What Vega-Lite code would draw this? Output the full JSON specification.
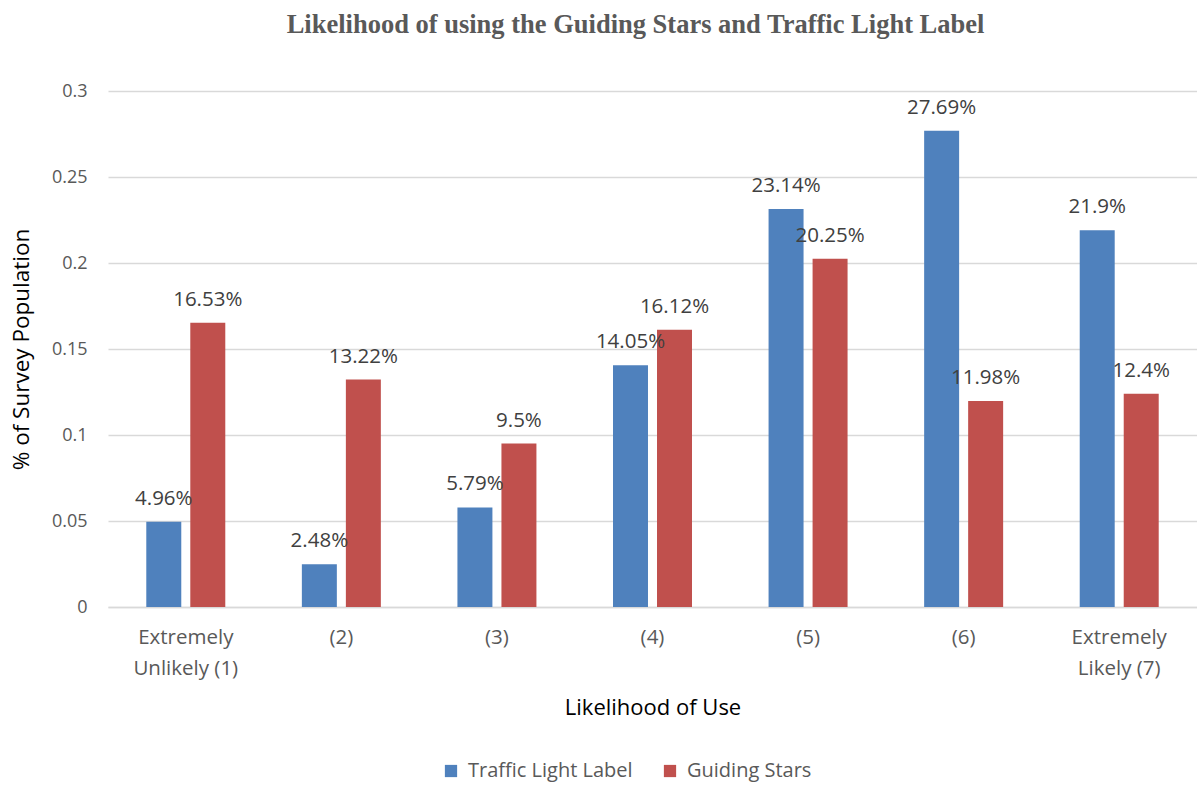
{
  "$schema": "https://vega.github.io/schema/vega-lite/v6.json",
  "autosize": {"type": "none"},
  "width": 1089,
  "height": 516,
  "padding": {"left": 108, "top": 91, "right": 0, "bottom": 178},
  "background": "white",
  "title": {
    "text": "Likelihood of using the Guiding Stars and Traffic Light Label",
    "font": "Liberation Serif",
    "fontSize": 26.5,
    "fontWeight": "bold",
    "color": "#595959",
    "anchor": "middle",
    "dx": -17,
    "offset": 44
  },
  "config": {
    "view": {"stroke": null},
    "font": "Open Sans"
  },
  "data": {
    "values": [
      {"likelihood": "Extremely Unlikely (1)", "series": "Traffic Light Label", "value": 0.0496},
      {"likelihood": "Extremely Unlikely (1)", "series": "Guiding Stars", "value": 0.1653},
      {"likelihood": "(2)", "series": "Traffic Light Label", "value": 0.0248},
      {"likelihood": "(2)", "series": "Guiding Stars", "value": 0.1322},
      {"likelihood": "(3)", "series": "Traffic Light Label", "value": 0.0579},
      {"likelihood": "(3)", "series": "Guiding Stars", "value": 0.095},
      {"likelihood": "(4)", "series": "Traffic Light Label", "value": 0.1405},
      {"likelihood": "(4)", "series": "Guiding Stars", "value": 0.1612},
      {"likelihood": "(5)", "series": "Traffic Light Label", "value": 0.2314},
      {"likelihood": "(5)", "series": "Guiding Stars", "value": 0.2025},
      {"likelihood": "(6)", "series": "Traffic Light Label", "value": 0.2769},
      {"likelihood": "(6)", "series": "Guiding Stars", "value": 0.1198},
      {"likelihood": "Extremely Likely (7)", "series": "Traffic Light Label", "value": 0.219},
      {"likelihood": "Extremely Likely (7)", "series": "Guiding Stars", "value": 0.124}
    ]
  },
  "encoding": {
    "x": {
      "field": "likelihood",
      "type": "nominal",
      "sort": null,
      "scale": {"paddingInner": 0, "paddingOuter": 0},
      "axis": {
        "title": "Likelihood of Use",
        "titleFont": "Open Sans",
        "titleFontSize": 22,
        "titleFontWeight": "normal",
        "titleColor": "#000000",
        "titlePadding": 19,
        "labelAngle": 0,
        "labelFontSize": 20.5,
        "labelColor": "#595959",
        "labelPadding": 20,
        "labelLineHeight": 31,
        "labelExpr": "datum.value == 'Extremely Unlikely (1)' ? ['Extremely', 'Unlikely (1)'] : datum.value == 'Extremely Likely (7)' ? ['Extremely', 'Likely (7)'] : datum.value",
        "ticks": false,
        "domain": true,
        "domainColor": "#d9d9d9",
        "domainWidth": 1.5
      }
    },
    "xOffset": {
      "field": "series",
      "type": "nominal",
      "sort": ["Traffic Light Label", "Guiding Stars"],
      "scale": {"paddingInner": 0.205, "paddingOuter": 0.87}
    },
    "y": {
      "field": "value",
      "type": "quantitative",
      "scale": {"domain": [0, 0.3]},
      "axis": {
        "title": "% of Survey Population",
        "titleFont": "Open Sans",
        "titleFontSize": 22.5,
        "titleFontWeight": "normal",
        "titleColor": "#000000",
        "titlePadding": 18,
        "values": [0, 0.05, 0.1, 0.15, 0.2, 0.25, 0.3],
        "format": "~g",
        "labelFontSize": 18,
        "labelColor": "#595959",
        "labelPadding": 21,
        "ticks": false,
        "domain": false,
        "grid": true,
        "gridColor": "#d9d9d9",
        "gridWidth": 1.5
      }
    }
  },
  "layer": [
    {
      "mark": {"type": "bar"},
      "encoding": {
        "color": {
          "field": "series",
          "type": "nominal",
          "sort": ["Traffic Light Label", "Guiding Stars"],
          "scale": {"domain": ["Traffic Light Label", "Guiding Stars"], "range": ["#4f81bd", "#c0504d"]},
          "legend": {
            "title": null,
            "orient": "none",
            "legendX": 333,
            "legendY": 670,
            "direction": "horizontal",
            "symbolType": "square",
            "symbolSize": 150,
            "symbolStrokeWidth": 0,
            "labelFontSize": 20,
            "labelColor": "#595959",
            "labelFont": "Open Sans",
            "labelLimit": 400,
            "columnPadding": 27,
            "labelOffset": 7
          }
        }
      }
    },
    {
      "mark": {"type": "text", "baseline": "alphabetic", "dy": -17, "fontSize": 20.5, "color": "#404040"},
      "encoding": {
        "text": {"field": "value", "type": "quantitative", "format": ".2~%"}
      }
    }
  ]
}
